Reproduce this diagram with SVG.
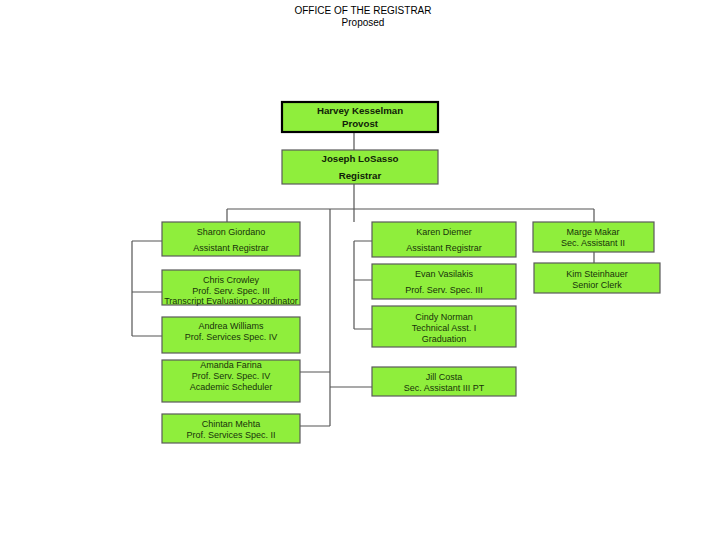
<svg xmlns="http://www.w3.org/2000/svg" width="720" height="540" viewBox="0 0 720 540">
<style>
.box{fill:#8fee3c;stroke:#5a5a5a;stroke-width:1.2}
.top{fill:#8fee3c;stroke:#000;stroke-width:2.2}
.t{font-family:"Liberation Sans",Arial,sans-serif;font-size:9px;fill:#17330a;text-anchor:middle}
.b{font-family:"Liberation Sans",Arial,sans-serif;font-size:9.7px;font-weight:bold;fill:#102208;text-anchor:middle}
.ttl{font-family:"Liberation Sans",Arial,sans-serif;font-size:10px;fill:#000;text-anchor:middle}
.c{fill:none;stroke:#555;stroke-width:1.2}
</style>
<rect width="720" height="540" fill="#fff"/>
<text class="ttl" x="363" y="14">OFFICE OF THE REGISTRAR</text>
<text class="ttl" x="363" y="26">Proposed</text>
<g id="connectors">
<path class="c" d="M354,132V150M354,184V209M227,209H594M227,209V222M354,209V222M594,209V222M594,252V263M330,209V426M300,372H330M300,426H330M330,387H372"/>
<path class="c" d="M132,241V336M132,241H162M132,292H162M132,336H162"/>
<path class="c" d="M354,241V329M354,241H372M354,280H372M354,329H372"/>
</g>
<g id="harvey"><rect class="top" x="282" y="102" width="156" height="30"/><text class="b" x="360" y="114">Harvey Kesselman</text><text class="b" x="360" y="127">Provost</text></g>
<g id="joseph"><rect class="box" x="282" y="150" width="156" height="34"/><text class="b" x="360" y="162">Joseph LoSasso</text><text class="b" x="360" y="179">Registrar</text></g>
<g id="sharon"><rect class="box" x="162" y="222" width="138" height="34"/><text class="t" x="231" y="235">Sharon Giordano</text><text class="t" x="231" y="251">Assistant Registrar</text></g>
<g id="chris"><rect class="box" x="162" y="270" width="138" height="35"/><text class="t" x="231" y="283">Chris Crowley</text><text class="t" x="231" y="293.5">Prof. Serv. Spec. III</text><text class="t" x="231" y="303.5">Transcript Evaluation Coordinator</text></g>
<g id="andrea"><rect class="box" x="162" y="317" width="138" height="36"/><text class="t" x="231" y="329">Andrea Williams</text><text class="t" x="231" y="340">Prof. Services Spec. IV</text></g>
<g id="amanda"><rect class="box" x="162" y="360" width="138" height="42"/><text class="t" x="231" y="368">Amanda Farina</text><text class="t" x="231" y="379">Prof. Serv. Spec. IV</text><text class="t" x="231" y="390">Academic Scheduler</text></g>
<g id="chintan"><rect class="box" x="162" y="414" width="138" height="29"/><text class="t" x="231" y="427">Chintan Mehta</text><text class="t" x="231" y="438">Prof. Services Spec. II</text></g>
<g id="karen"><rect class="box" x="372" y="222" width="144" height="35"/><text class="t" x="444" y="235">Karen Diemer</text><text class="t" x="444" y="251">Assistant Registrar</text></g>
<g id="evan"><rect class="box" x="372" y="264" width="144" height="35"/><text class="t" x="444" y="277">Evan Vasilakis</text><text class="t" x="444" y="293">Prof. Serv. Spec. III</text></g>
<g id="cindy"><rect class="box" x="372" y="306" width="144" height="41"/><text class="t" x="444" y="320">Cindy Norman</text><text class="t" x="444" y="331">Technical Asst. I</text><text class="t" x="444" y="342">Graduation</text></g>
<g id="jill"><rect class="box" x="372" y="367" width="144" height="29"/><text class="t" x="444" y="380">Jill Costa</text><text class="t" x="444" y="391">Sec. Assistant III PT</text></g>
<g id="marge"><rect class="box" x="533" y="222" width="121" height="30"/><text class="t" x="593" y="235">Marge Makar</text><text class="t" x="593" y="246">Sec. Assistant II</text></g>
<g id="kim"><rect class="box" x="534" y="263" width="126" height="30"/><text class="t" x="597" y="277">Kim Steinhauer</text><text class="t" x="597" y="288">Senior Clerk</text></g>
</svg>
